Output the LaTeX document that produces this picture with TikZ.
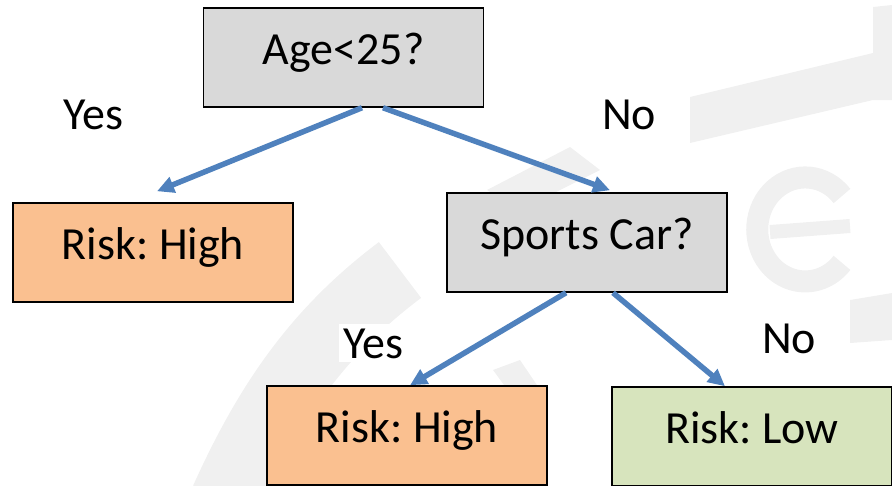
\documentclass[tikz,border=0pt]{standalone}
\usepackage{fontspec}
\setmainfont{Carlito}
\frenchspacing
\usetikzlibrary{arrows.meta}
\definecolor{testgray}{HTML}{D9D9D9}
\definecolor{highpeach}{HTML}{FAC090}
\definecolor{lowgreen}{HTML}{D7E4BD}
\definecolor{edgeblue}{HTML}{4F81BD}
\definecolor{markgray}{HTML}{F0F0F0}
\tikzset{
	box/.style={draw=black,line width=1.5pt,minimum width=280pt,minimum height=99pt,
		text height=30pt,text depth=17pt,font=\fontsize{46}{50}\selectfont},
	testbox/.style={box,fill=testgray},
	highbox/.style={box,fill=highpeach},
	lowbox/.style={box,fill=lowgreen},
	answer/.style={anchor=base,fill=white,inner sep=4pt,font=\fontsize{46}{50}\selectfont},
	branch/.style={edgeblue,line width=5.5pt,-{Triangle[length=17pt,width=16pt]}},
	mark/.style={fill=markgray,draw=none}
}
\begin{document}
\begin{tikzpicture}[x=1pt,y=-1pt]
	\useasboundingbox (0,0) rectangle (892,485);
	% faint watermark behind the tree
	\fill[markgray] (690,97) -- (873,53) -- (873,100) -- (690,143) -- cycle;
	\fill[markgray] (873,7) -- (892,5) -- (892,100) -- (873,100) -- cycle;
	\fill[markgray] (850,300) -- (892,293) -- (892,340) -- (850,343) -- cycle;
	\draw[markgray,line width=22pt] (842,196) arc[start angle=40,end angle=320,x radius=48,y radius=-52];
	\draw[markgray,line width=14pt] (770,232) -- (850,226);
	\draw[markgray,line width=70pt] (225,500) .. controls (270,400) and (320,330) .. (400,270);
	\fill[markgray] (487,190) -- (570,147) -- (600,170) -- (520,210) -- cycle;
	\fill[markgray] (493,370) -- (520,360) -- (545,397) -- (515,400) -- cycle;

	\node[testbox]  (age)   at (343.5,57.5) {Age<25?};
	\node[highbox]  (young) at (153,252.5)  {Risk: High};
	\node[testbox]  (car)   at (587,242.5)  {Sports Car?};
	\node[highbox]  (sport) at (407,435.5)  {Risk: High};
	\node[lowbox]   (plain) at (752,436.5)  {Risk: Low};

	\node[answer] (yes1) at (93,129)  {Yes};
	\node[answer] (no1)  at (629,129) {No};
	\node[answer] (yes2) at (373,358) {Yes};
	\node[answer] (no2)  at (789,353) {No};

	\draw[branch] ([xshift=18.5pt]age.south) -- ([xshift=4pt,yshift=11pt]young.north);
	\draw[branch] ([xshift=39.5pt]age.south) -- ([xshift=23pt,yshift=2pt]car.north);
	\draw[branch] ([xshift=-21pt]car.south) -- ([xshift=3pt]sport.north);
	\draw[branch] ([xshift=26pt]car.south) -- ([xshift=-27pt]plain.north);
\end{tikzpicture}
\end{document}
